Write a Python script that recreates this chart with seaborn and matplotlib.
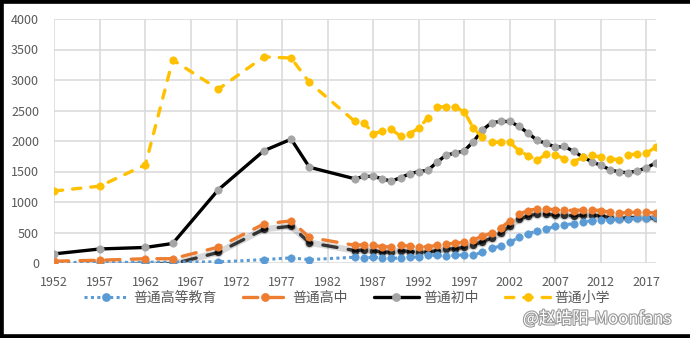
import matplotlib
matplotlib.use("Agg")
import matplotlib.pyplot as plt
import matplotlib.patheffects as pe
from matplotlib.transforms import ScaledTranslation
from matplotlib.lines import Line2D
import seaborn as sns
import pandas as pd

years = [1952, 1957, 1962, 1965, 1970, 1975, 1978, 1980,
         1985, 1986, 1987, 1988, 1989, 1990, 1991, 1992, 1993, 1994,
         1995, 1996, 1997, 1998, 1999, 2000, 2001, 2002, 2003, 2004,
         2005, 2006, 2007, 2008, 2009, 2010, 2011, 2012, 2013, 2014,
         2015, 2016, 2017, 2018]

higher = [8, 11, 11, 16, 18, 55, 85, 55,
          95, 85, 95, 85, 75, 85, 95, 100, 125, 125,
          115, 125, 135, 130, 180, 240, 280, 340, 420, 475,
          530, 560, 600, 625, 645, 670, 695, 700, 705, 715,
          725, 735, 745, 760]

senior = [30, 45, 70, 70, 260, 640, 690, 420,
          290, 300, 290, 265, 265, 290, 275, 265, 265, 290,
          315, 320, 345, 385, 435, 495, 575, 690, 800, 860,
          890, 890, 870, 870, 860, 870, 870, 860, 830, 815,
          830, 830, 830, 820]

junior = [150, 230, 255, 320, 1200, 1840, 2030, 1570,
          1380, 1420, 1420, 1380, 1340, 1400, 1460, 1500, 1520, 1650,
          1770, 1800, 1840, 1990, 2180, 2300, 2320, 2320, 2240, 2130,
          2010, 1960, 1900, 1910, 1830, 1740, 1660, 1600, 1530, 1490,
          1480, 1510, 1560, 1640]

primary = [1180, 1260, 1610, 3330, 2850, 3380, 3360, 2960,
           2320, 2300, 2120, 2160, 2190, 2080, 2120, 2210, 2380, 2560,
           2560, 2560, 2480, 2210, 2060, 1980, 1980, 1980, 1840, 1760,
           1690, 1780, 1770, 1710, 1660, 1730, 1770, 1730, 1710, 1690,
           1770, 1790, 1800, 1900]

series_names = ["普通高等教育", "普通高中", "普通初中", "普通小学"]
x_ticks = [1952, 1957, 1962, 1967, 1972, 1977, 1982, 1987, 1992, 1997, 2002, 2007, 2012, 2017]
y_ticks = [0, 500, 1000, 1500, 2000, 2500, 3000, 3500, 4000]

df = pd.DataFrame({"year": years, series_names[0]: higher, series_names[1]: senior,
                   series_names[2]: junior, series_names[3]: primary})

sns.set_style("white")
plt.rcParams["font.family"] = ["Noto Sans CJK SC", "DejaVu Sans"]

fig = plt.figure(figsize=(6.9, 3.38), dpi=100)
ax = fig.add_axes([54.3 / 690, 1 - 263 / 338, (655.6 - 54.3) / 690, (263 - 19) / 338])

ms = 5.3
styles = {
    "普通高等教育": dict(color="#5B9BD5", mfc="#5B9BD5", lw=2.2, ls=(0, (1, 1.1)), cap="butt"),
    "普通高中": dict(color="#ED7D31", mfc="#ED7D31", lw=2.4, ls=(0, (4.3, 3.4)), cap="round"),
    "普通初中": dict(color="#000000", mfc="#A5A5A5", lw=2.4, ls="-", cap="round"),
    "普通小学": dict(color="#FFC000", mfc="#FFC000", lw=2.4, ls=(0, (2.5, 3.0)), cap="round"),
}

handles = []
for name in series_names:
    st = styles[name]
    if name == "普通高中":
        for off, lwm, al in [(-3.8, 1.9, 0.15), (-3.8, 1.0, 0.75)]:
            tr = ax.transData + ScaledTranslation(0, off / 72, fig.dpi_scale_trans)
            sns.lineplot(data=df, x="year", y=name, ax=ax, color="black", alpha=al,
                         linewidth=st["lw"] * lwm, linestyle="-" if lwm > 1 else st["ls"],
                         marker="o", markersize=ms * (1.35 if lwm > 1 else 1.0),
                         markeredgewidth=0, markeredgecolor="black",
                         transform=tr, legend=False, zorder=2)
            ax.lines[-1].set_dash_capstyle("round")
    sns.lineplot(data=df, x="year", y=name, ax=ax, color=st["color"],
                 linewidth=st["lw"], linestyle=st["ls"], marker="o", markersize=ms,
                 markerfacecolor=st["mfc"], markeredgecolor=st["mfc"], markeredgewidth=0.5,
                 legend=False, zorder=3)
    ln = ax.lines[-1]
    ln.set_dash_capstyle(st["cap"])
    ln.set_solid_capstyle("round")
    h = Line2D([], [], color=st["color"], lw=st["lw"], ls=st["ls"], marker="o",
               markersize=ms, markerfacecolor=st["mfc"], markeredgecolor=st["mfc"])
    h.set_dash_capstyle(st["cap"])
    handles.append(h)

ax.set_xlim(1952, 2018)
ax.set_ylim(0, 4000)
ax.set_xticks(x_ticks)
ax.set_xticklabels([str(t) for t in x_ticks])
ax.set_yticks(y_ticks)
ax.set_yticklabels([str(t) for t in y_ticks])
ax.set_xlabel("")
ax.set_ylabel("")
ax.grid(True, color="#D9D9D9", linewidth=1.1)
ax.set_axisbelow(True)
for s in ax.spines.values():
    s.set_visible(False)
ax.tick_params(axis="both", length=0, labelsize=9, labelcolor="#595959")
ax.tick_params(axis="x", pad=9)
ax.tick_params(axis="y", pad=11)

leg = fig.legend(handles, series_names, loc="center", bbox_to_anchor=(0.503, 1 - 298 / 338),
                 ncol=4, frameon=False, fontsize=10, handlelength=3.2, handletextpad=0.35,
                 columnspacing=1.9, numpoints=1)
for t in leg.get_texts():
    t.set_color("#595959")

fig.text(523 / 690, 1 - 319 / 338, "@赵皓阳-Moonfans", fontsize=12, color="white",
         ha="left", va="center",
         path_effects=[pe.withStroke(linewidth=1.6, foreground="#9a9a9a")])

for (x0, y0, x1, y1) in [(0, 0, 0, 1), (0, 1, 1, 1), (0, 0, 1, 0)]:
    fig.add_artist(Line2D([x0, x1], [y0, y1], transform=fig.transFigure,
                          color="black", lw=5.5, solid_capstyle="butt"))

fig.savefig("out.png", dpi=100)
